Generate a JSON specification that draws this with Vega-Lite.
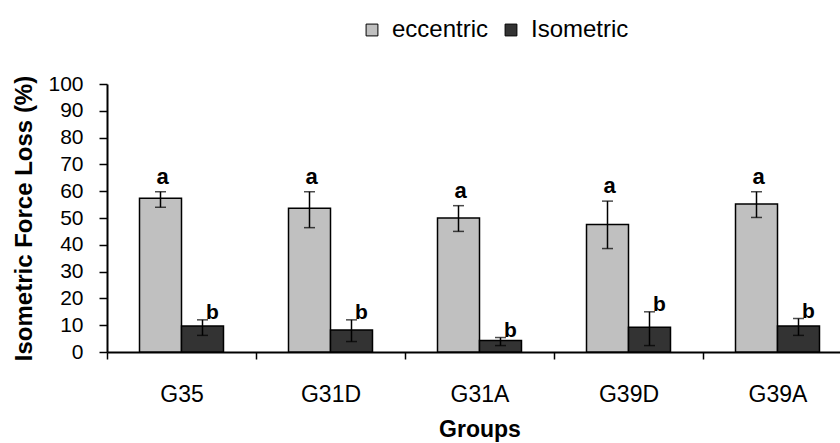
{
  "$schema": "https://vega.github.io/schema/vega-lite/v6.json",
  "width": 745,
  "height": 268,
  "autosize": {"type": "none"},
  "padding": {"left": 107, "top": 84, "right": 0, "bottom": 91},
  "config": {
    "view": {"stroke": null},
    "font": "Liberation Sans",
    "axis": {"domainColor": "#000", "domainWidth": 2, "tickColor": "#000", "tickWidth": 1.5, "labelColor": "#000", "titleColor": "#000", "grid": false}
  },
  "data": {"values": [
    {"group": "G35", "series": "eccentric", "mean": 57.4, "lo": 54.0, "hi": 59.8, "letter": "a"},
    {"group": "G31D", "series": "eccentric", "mean": 53.6, "lo": 46.4, "hi": 59.8, "letter": "a"},
    {"group": "G31A", "series": "eccentric", "mean": 50.0, "lo": 45.0, "hi": 54.6, "letter": "a"},
    {"group": "G39D", "series": "eccentric", "mean": 47.6, "lo": 38.6, "hi": 56.3, "letter": "a"},
    {"group": "G39A", "series": "eccentric", "mean": 55.2, "lo": 50.2, "hi": 59.8, "letter": "a"},
    {"group": "G35", "series": "Isometric", "mean": 9.7, "lo": 6.2, "hi": 12.0, "letter": "b"},
    {"group": "G31D", "series": "Isometric", "mean": 8.2, "lo": 3.9, "hi": 12.0, "letter": "b"},
    {"group": "G31A", "series": "Isometric", "mean": 4.3, "lo": 2.4, "hi": 5.4, "letter": "b"},
    {"group": "G39D", "series": "Isometric", "mean": 9.2, "lo": 2.4, "hi": 15.0, "letter": "b"},
    {"group": "G39A", "series": "Isometric", "mean": 9.7, "lo": 6.2, "hi": 12.5, "letter": "b"}
  ]},
  "resolve": {"scale": {"y": "shared"}, "axis": {"y": "independent"}},
  "encoding": {
    "x": {
      "field": "group", "type": "nominal",
      "sort": ["G35", "G31D", "G31A", "G39D", "G39A"],
      "scale": {"paddingInner": 0, "paddingOuter": 0},
      "axis": {"title": "Groups", "titleFontSize": 23, "titleFontWeight": "bold", "titlePadding": 12, "labelFontSize": 23, "labelAngle": 0, "labelPadding": 24, "tickBand": "extent", "tickSize": 7}
    },
    "xOffset": {"field": "series", "type": "nominal", "sort": ["eccentric", "Isometric"], "scale": {"paddingInner": 0, "paddingOuter": 0.774}}
  },
  "layer": [
    {
      "mark": {"type": "bar", "stroke": "#000", "strokeWidth": 1.5},
      "encoding": {
        "y": {
          "field": "mean", "type": "quantitative",
          "scale": {"domain": [0, 100], "nice": false},
          "axis": {"orient": "left", "title": "Isometric Force Loss (%)", "values": [0,10,20,30,40,50,60,70,80,90,100], "tickCount": {"signal": "11"}, "tickMinStep": 10, "labelOverlap": false, "labelSeparation": 0, "labelBound": false, "labelFlush": false, "labelFontSize": 21, "tickSize": 8, "labelPadding": 16, "titleFontSize": 24, "titleFontWeight": "bold", "titlePadding": 11}
        },
        "color": {
          "field": "series", "type": "nominal",
          "scale": {"domain": ["eccentric", "Isometric"], "range": ["#c0c0c0", "#333333"]},
          "legend": {"orient": "none", "legendX": 253, "legendY": -66, "direction": "horizontal", "title": null, "symbolType": "square", "symbolSize": 140, "symbolStrokeColor": "#000", "symbolStrokeWidth": 1, "labelFontSize": 24, "labelColor": "#000", "columnPadding": 10, "labelOffset": 8}
        }
      }
    },
    {
      "mark": {"type": "rule", "color": "#000", "strokeWidth": 1.5},
      "encoding": {"y": {"field": "lo", "type": "quantitative", "axis": null}, "y2": {"field": "hi"}}
    },
    {
      "mark": {"type": "tick", "color": "#000", "thickness": 1.5, "size": 11},
      "encoding": {"y": {"field": "lo", "type": "quantitative", "axis": null}}
    },
    {
      "mark": {"type": "tick", "color": "#000", "thickness": 1.5, "size": 11},
      "encoding": {"y": {"field": "hi", "type": "quantitative", "axis": null}}
    },
    {
      "transform": [{"filter": "datum.series === 'eccentric'"}],
      "mark": {"type": "text", "fontSize": 22, "fontWeight": "bold", "baseline": "alphabetic", "dy": -8, "dx": 2, "color": "#000"},
      "encoding": {"y": {"field": "hi", "type": "quantitative", "axis": null}, "text": {"field": "letter"}}
    },
    {
      "transform": [{"filter": "datum.series === 'Isometric'"}],
      "mark": {"type": "text", "fontSize": 21, "fontWeight": "bold", "baseline": "alphabetic", "dy": -1, "dx": 10, "color": "#000"},
      "encoding": {"y": {"field": "hi", "type": "quantitative", "axis": null}, "text": {"field": "letter"}}
    }
  ]
}
